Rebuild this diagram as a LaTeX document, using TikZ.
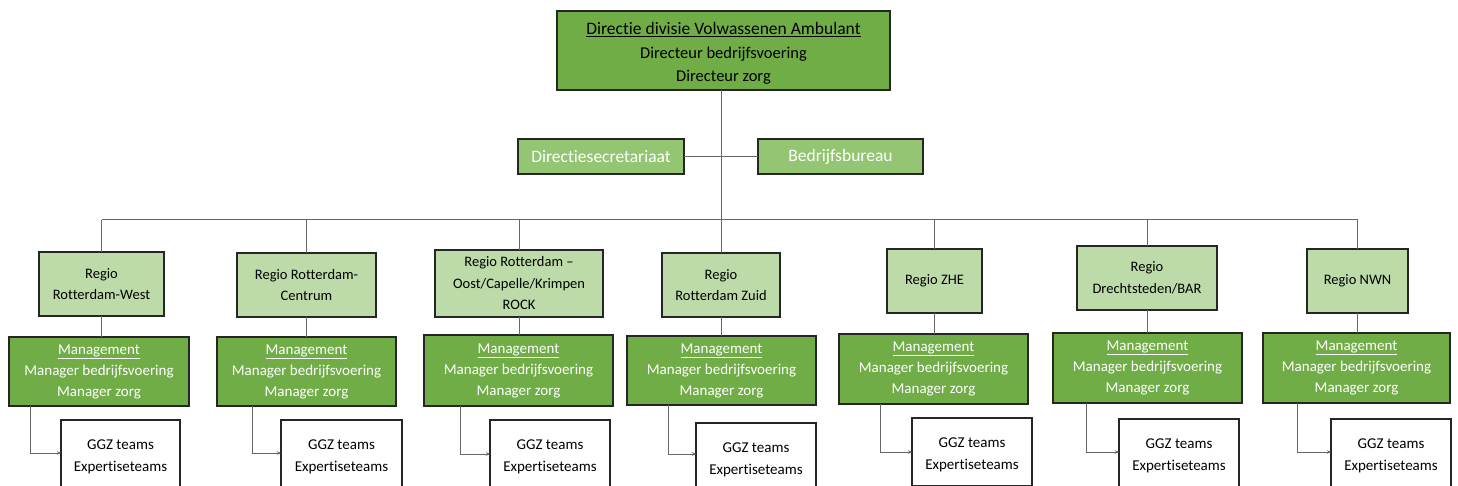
\documentclass[tikz,border=0pt]{standalone}
\usepackage{fontspec}
\setmainfont{Carlito}[Ligatures={NoCommon}]
\usetikzlibrary{arrows.meta,calc}
\definecolor{topgreen}{HTML}{70AD47}
\definecolor{secgreen}{HTML}{93C572}
\definecolor{reggreen}{HTML}{BDDBA9}
\definecolor{boxline}{HTML}{262626}
\definecolor{linegray}{HTML}{666666}
\newcommand{\lowered}[2]{\raisebox{-#1}[\height][\depth]{\begin{tabular}{@{}c@{}}#2\end{tabular}}}
\begin{document}
\begin{tikzpicture}[x=1pt,y=-1pt,
  box/.style={rectangle, draw=boxline, line width=1.5pt, inner sep=0pt, outer sep=0pt, align=center},
  topbox/.style={box, fill=topgreen, text=black, font=\fontsize{16.5}{23.5}\selectfont},
  secbox/.style={box, fill=secgreen, text=white, font=\fontsize{17.5}{21}\selectfont},
  regbox/.style={box, fill=reggreen, text=black, font=\fontsize{14.5}{21.5}\selectfont},
  manbox/.style={box, fill=topgreen, text=white, font=\fontsize{15}{21}\selectfont},
  ggzbox/.style={box, fill=white, text=black, font=\fontsize{15}{22}\selectfont},
  conn/.style={draw=linegray, line width=1pt},
  arr/.style={conn, -{Stealth[length=4pt,width=3.5pt]}}
]
\useasboundingbox (0,0) rectangle (1458,486);
\clip (0,0) rectangle (1458,486);

% top
\node[topbox, minimum width=333, minimum height=79] (top) at (723.5,50.5)
  {\lowered{3pt}{{\fontsize{17.5}{23.5}\selectfont\underline{Directie divisie Volwassenen Ambulant}}\\Directeur bedrijfsvoering\\Directeur zorg}};
\node[secbox, minimum width=166, minimum height=35] (sec) at (601,156.5) {Directiesecretariaat};
\node[secbox, minimum width=165, minimum height=35] (bur) at (840.5,156.5) {Bedrijfsbureau};
\coordinate (hub) at (721,220);

% regions
\node[regbox, minimum width=125, minimum height=64] (r1) at (101.5,284) {Regio\\Rotterdam-West};
\node[regbox, minimum width=139, minimum height=64] (r2) at (306.5,285) {Regio Rotterdam-\\Centrum};
\node[regbox, minimum width=168, minimum height=67] (r3) at (519,283.5) {Regio Rotterdam –\\Oost/Capelle/Krimpen\\ROCK};
\node[regbox, minimum width=118, minimum height=64] (r4) at (721,285) {Regio\\Rotterdam Zuid};
\node[regbox, minimum width=95, minimum height=64] (r5) at (934.5,281) {Regio ZHE};
\node[regbox, minimum width=140, minimum height=64] (r6) at (1147,278) {Regio\\Drechtsteden/BAR};
\node[regbox, minimum width=101, minimum height=64] (r7) at (1357.5,281) {Regio NWN};

% management
\newcommand{\mantext}{\underline{Management}\\Manager bedrijfsvoering\\Manager zorg}
\node[manbox, minimum width=180, minimum height=69] (m1) at (99,371.5) {\mantext};
\node[manbox, minimum width=179, minimum height=69] (m2) at (306.5,371.5) {\mantext};
\node[manbox, minimum width=189, minimum height=71] (m3) at (518.5,370.5) {\mantext};
\node[manbox, minimum width=189, minimum height=69] (m4) at (721.5,370.5) {\mantext};
\node[manbox, minimum width=189, minimum height=70] (m5) at (933.5,369) {\mantext};
\node[manbox, minimum width=189, minimum height=70] (m6) at (1147.5,368) {\mantext};
\node[manbox, minimum width=187, minimum height=70] (m7) at (1356.5,368) {\mantext};

% GGZ
\newcommand{\ggztext}{\lowered{2pt}{GGZ teams\\Expertiseteams}}
\node[ggzbox, minimum width=119, minimum height=68] (g1) at (120.5,454) {\ggztext};
\node[ggzbox, minimum width=121, minimum height=68] (g2) at (341.5,454) {\ggztext};
\node[ggzbox, minimum width=120, minimum height=68] (g3) at (550,454) {\ggztext};
\node[ggzbox, minimum width=120, minimum height=68] (g4) at (756,457) {\ggztext};
\node[ggzbox, minimum width=120, minimum height=68] (g5) at (972,452) {\ggztext};
\node[ggzbox, minimum width=120, minimum height=68] (g6) at (1179,453) {\ggztext};
\node[ggzbox, minimum width=120, minimum height=68] (g7) at (1391,453) {\ggztext};

% elbow coordinates
\coordinate (e1) at (30,453);
\coordinate (e2) at (252,453);
\coordinate (e3) at (460,454);
\coordinate (e4) at (668,454);
\coordinate (e5) at (880,452);
\coordinate (e6) at (1086,452);
\coordinate (e7) at (1297,452);

% connectors
\draw[conn] (top.south -| hub) -- (hub);
\draw[conn] (sec.east) -- (bur.west);
\draw[conn] (r1.north |- hub) -- (r7.north |- hub);
\foreach \i in {1,...,7}{
  \draw[conn] (r\i.north |- hub) -- (r\i.north);
  \draw[conn] (r\i.south) -- (r\i.south |- m\i.north);
  \draw[arr] (m\i.south -| e\i) |- (g\i.west |- e\i);
}
\end{tikzpicture}
\end{document}
